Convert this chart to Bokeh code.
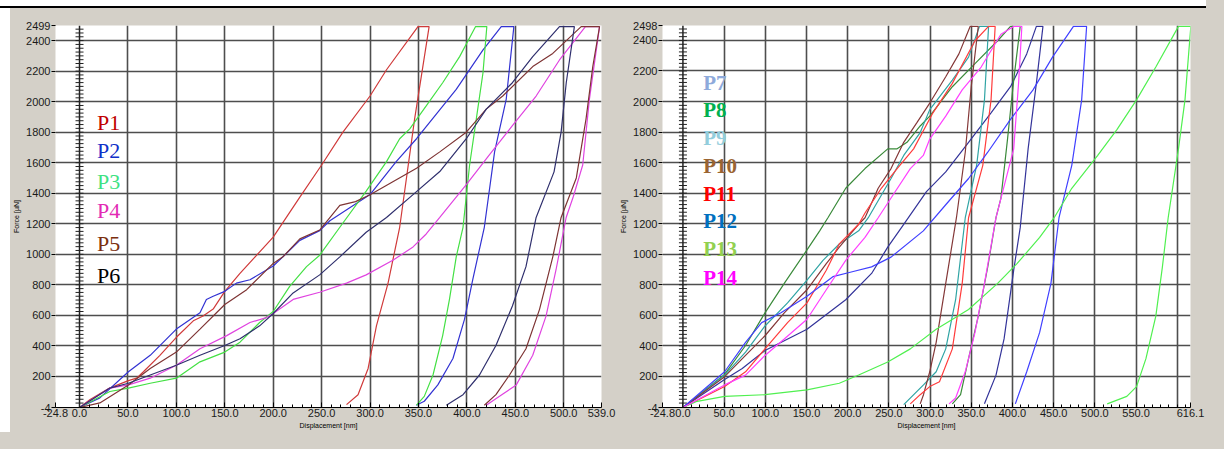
from bokeh.plotting import figure
from bokeh.models import Range1d, FixedTicker, Div, Span, PrintfTickFormatter
from bokeh.layouts import row, column
from bokeh.embed import file_html
from bokeh.resources import INLINE
from bokeh.core.properties import value
import numpy as np

# ---------------- data: left panel (P1-P6) ----------------
P1_x = [-24.8, 0, 11, 31, 50.5, 59, 66, 83, 100, 117.5, 127.6, 138, 150, 165.7, 200, 227, 250, 272, 300, 317, 349.5, 361, 346, 330.6, 318.6, 306.6, 298, 287.6, 275.7]
P1_y = [-4, -4, 48, 123, 172, 188, 230, 338, 456, 564, 596, 641, 757, 875, 1112, 1370, 1585, 1800, 2037, 2209, 2492, 2492, 1886, 1177, 811, 531, 252, 80, 15]

P2_x = [-24.8, 0, 21, 50.5, 73, 100, 124.4, 131, 138, 150, 162, 176, 200, 210, 227.5, 248, 258.5, 300, 327, 348, 389, 416.5, 435.5, 448.5, 440.6, 428.6, 418, 406, 397.6, 385.6, 370, 356, 347.8]
P2_y = [-4, -4, 59, 230, 338, 510, 617, 704, 725, 757, 811, 833, 923, 983, 1091, 1155, 1220, 1391, 1607, 1757, 2080, 2338, 2492, 2492, 2015, 1671, 1177, 833, 575, 317, 144, 37, 11]

P3_x = [-24.8, 0, 31.3, 50.5, 73, 100, 124.4, 150, 165.7, 186, 200, 217, 234.4, 248, 268.8, 296, 317, 330.6, 341, 358, 375, 392.5, 409, 420.6, 416.6, 409.7, 402.8, 396, 389, 382, 375, 365, 356, 348]
P3_y = [-4, -4, 101, 123, 155, 188, 295, 359, 424, 553, 625, 790, 919, 994, 1177, 1414, 1607, 1757, 1822, 1972, 2124, 2295, 2492, 2492, 2188, 1886, 1585, 1177, 983, 704, 467, 209, 69, 11]

P4_x = [-24.8, 0, 31.3, 50.5, 73, 100, 124.4, 152, 176, 193, 200, 220.6, 248, 275.7, 296, 324, 344.4, 358, 372, 399.4, 423, 447, 471.5, 495.6, 522.4, 537, 526.5, 519.6, 510, 502.5, 492, 481.8, 468, 451, 433.7, 420]
P4_y = [-4, -4, 123, 144, 188, 273, 381, 467, 553, 585, 612, 704, 751, 811, 865, 962, 1048, 1133, 1241, 1456, 1650, 1843, 2037, 2273, 2492, 2492, 2015, 1585, 1380, 1241, 897, 596, 338, 144, 69, 11]

P5_x = [-24.8, 0, 21, 50.5, 73, 100, 124.4, 150, 172.6, 200, 210, 227.5, 248, 268.8, 285, 300, 348, 372, 399.4, 420, 437, 468, 488.7, 518, 537, 530, 523, 513, 497.3, 488.7, 475, 461, 444, 430, 418]
P5_y = [-4, -4, 26, 144, 252, 359, 510, 671, 768, 940, 983, 1101, 1159, 1320, 1345, 1390, 1564, 1671, 1800, 1951, 2037, 2230, 2316, 2492, 2492, 2230, 1886, 1500, 1241, 983, 639, 381, 209, 80, 11]

P6_x = [-24.8, 0, 31.3, 50.5, 73, 100, 124.4, 150, 165.7, 186, 200, 220.6, 248, 268.8, 296, 317, 344.4, 372, 399.4, 420, 447, 468, 495.6, 511, 502.6, 497.3, 490, 471.5, 461, 447, 430, 413, 396, 378.8]
P6_y = [-4, -4, 123, 155, 209, 273, 338, 402, 446, 531, 612, 747, 865, 983, 1144, 1241, 1391, 1542, 1757, 1951, 2124, 2295, 2492, 2492, 2124, 1800, 1540, 1241, 919, 661, 402, 209, 80, 11]

# ---------------- data: right panel (P7-P14) ----------------
P7_x = [-24.8, 0, 50.6, 72, 99.6, 150.6, 197.6, 229, 248.6, 268, 295.6, 319, 346.7, 374, 397.6, 417.3, 429, 437, 429, 419, 409.4, 401.5, 389.8, 380, 366]
P7_y = [-4, -4, 180, 252, 369, 509, 702, 874, 1046, 1196, 1410, 1539, 1733, 1926, 2097, 2312, 2492, 2492, 2119, 1690, 1174, 896, 445, 208, 20]

P8_x = [-24.8, 0, 50.6, 76, 99.6, 123, 150, 166, 176, 197.6, 221, 248.6, 260, 272, 288, 299.6, 327, 354.5, 382, 397.6, 409.4, 401.5, 394, 386, 380, 370, 358.5, 346.7, 337, 327]
P8_y = [-4, -4, 213, 402, 616, 809, 1024, 1153, 1239, 1432, 1561, 1690, 1690, 1733, 1840, 1904, 2097, 2248, 2398, 2492, 2492, 2140, 1754, 1367, 1239, 917, 595, 316, 80, 20]

P9_x = [-24.8, 0, 50.6, 76, 99.6, 127, 150.6, 170, 189.8, 213.3, 225, 252.6, 268, 288, 299.6, 327, 346.7, 360, 371, 366, 356.5, 342.7, 331, 319, 307.4, 292, 268]
P9_y = [-4, -4, 208, 359, 530, 681, 831, 960, 1067, 1153, 1239, 1496, 1647, 1797, 1947, 2140, 2291, 2492, 2492, 2011, 1582, 1239, 702, 380, 230, 144, 15]

P10_x = [-24.8, 0, 50.6, 76, 99.6, 123, 150.6, 174, 189.8, 213.3, 221, 237, 252.6, 268, 284, 299.6, 319, 335, 348.6, 358.5, 350, 342.7, 332, 319, 307.4, 299.6, 292, 288]
P10_y = [-4, -4, 198, 337, 466, 616, 767, 938, 1046, 1196, 1239, 1432, 1561, 1733, 1862, 1990, 2162, 2312, 2492, 2492, 2100, 1668, 1239, 809, 423, 230, 80, 20]

P11_x = [-24.8, 0, 50.6, 76, 99.6, 127, 150.6, 174, 189.8, 197.6, 213.3, 221, 240.8, 260, 280, 303.5, 327, 354.5, 371, 379, 374, 364, 346.7, 339, 327, 311.4, 299.6, 288, 276]
P11_y = [-4, -4, 133, 230, 380, 552, 681, 895, 1067, 1110, 1196, 1270, 1432, 1561, 1690, 1926, 2119, 2398, 2492, 2492, 2011, 1582, 1239, 809, 380, 165, 133, 80, 20]

P12_x = [-24.8, 0, 50.6, 76, 95.6, 119, 150.6, 182, 205.5, 229, 252.6, 291.8, 319, 346.7, 370, 397.6, 425, 448.6, 474, 490, 484, 472, 456.5, 446.7, 433, 417.3, 403.5]
P12_y = [-4, -4, 230, 423, 552, 616, 724, 853, 885, 917, 981, 1153, 1324, 1496, 1668, 1883, 2076, 2291, 2492, 2492, 2011, 1582, 1239, 809, 488, 230, 20]

P13_x = [-24.8, 0, 17.3, 50.6, 99.6, 150.6, 189.8, 213.3, 248.6, 276, 307.4, 346.7, 382, 405.5, 433, 450.6, 472, 503.5, 527, 550.6, 574, 601.5, 616.5, 609.4, 601.5, 589, 582, 574, 562, 550.6, 538.8, 515]
P13_y = [-4, -4, 36.6, 68.8, 79.7, 112, 155, 208.5, 294, 380, 509, 638, 809, 938, 1110, 1239, 1432, 1647, 1818, 2011, 2226, 2492, 2492, 2011, 1690, 1239, 917, 595, 316, 133, 69, 20]

P14_x = [-24.8, 0, 50.6, 76, 99.6, 123, 150.6, 174, 197.6, 221, 237, 252.6, 276, 291.8, 299.6, 319, 339, 362, 386, 401.5, 411.4, 407.4, 401.5, 380, 366, 354.5, 342.7, 331, 323]
P14_y = [-4, -4, 144, 208, 337, 445, 574, 767, 960, 1110, 1239, 1368, 1561, 1647, 1754, 1904, 2076, 2226, 2441, 2492, 2492, 2119, 1690, 1239, 809, 488, 230, 58, 20]

LEFT_NAMES = ["P1", "P2", "P3", "P4", "P5", "P6"]
LEFT_X = [P1_x, P2_x, P3_x, P4_x, P5_x, P6_x]
LEFT_Y = [P1_y, P2_y, P3_y, P4_y, P5_y, P6_y]
RIGHT_NAMES = ["P7", "P8", "P9", "P10", "P11", "P12", "P13", "P14"]
RIGHT_X = [P7_x, P8_x, P9_x, P10_x, P11_x, P12_x, P13_x, P14_x]
RIGHT_Y = [P7_y, P8_y, P9_y, P10_y, P11_y, P12_y, P13_y, P14_y]

LEFT_XMAX, LEFT_YMAX = 539.0, 2499
RIGHT_XMAX, RIGHT_YMAX = 616.1, 2498
X_MIN, Y_MIN = -24.8, -4

# ---------------- styles ----------------
LEFT_CURVE_COLORS = ["#d03a3a", "#3232d2", "#44e044", "#e044e0", "#7e3434", "#30306e"]
LEFT_LABEL_COLORS = ["#c00000", "#1030c8", "#3ee282", "#e22ab4", "#7b2e0e", "#000000"]
RIGHT_CURVE_COLORS = ["#34349a", "#3a8a3a", "#30a4a4", "#843838", "#ff3c3c", "#4040ff", "#50f050", "#ff40ff"]
RIGHT_LABEL_COLORS = ["#8eaadb", "#00b050", "#92cddc", "#9a6432", "#ff0000", "#0070c0", "#92d050", "#ff00ff"]

LEFT_LABEL_POS_X = 18
LEFT_LABEL_POS_Y = [1865, 1683, 1474, 1284, 1071, 862]
RIGHT_LABEL_POS_X = 24.7
RIGHT_LABEL_POS_Y = [2122, 1942, 1759, 1579, 1395, 1215, 1037, 847]

PANEL_BG = "#d4d0c8"
GRID_COLOR = "#4e4e4e"
FONT = "Liberation Sans"
FIG_H = 424
GRAY_HOST = [":host { background-color: #d4d0c8; }"]


def make_panel(width, b_left, b_right, xmax, ymax, names, xs, ys, curve_colors,
               label_colors, lab_x, lab_y, lab_style, lab_size):
    p = figure(width=width, height=FIG_H, x_range=Range1d(X_MIN, xmax),
               y_range=Range1d(Y_MIN, ymax), output_backend="svg",
               toolbar_location=None, min_border_left=b_left,
               min_border_right=b_right, min_border_top=17, min_border_bottom=25,
               margin=0, stylesheets=GRAY_HOST)
    p.background_fill_color = "white"
    p.border_fill_color = PANEL_BG
    p.outline_line_color = None

    # grid
    p.xgrid.ticker = FixedTicker(ticks=list(range(50, int(xmax) + 1, 50)))
    p.ygrid.ticker = FixedTicker(ticks=list(range(200, 2401, 200)))
    p.grid.grid_line_color = GRID_COLOR
    p.grid.grid_line_width = 1.6

    # x axis
    xt = [X_MIN] + list(range(0, int(xmax) - 20, 50)) + [xmax]
    p.xaxis.ticker = FixedTicker(ticks=xt, minor_ticks=list(range(0, int(xmax) + 1, 10)))
    p.xaxis.formatter = PrintfTickFormatter(format="%.1f")
    p.xaxis.axis_line_color = "black"
    p.xaxis.major_tick_in = 5
    p.xaxis.major_tick_out = 0
    p.xaxis.minor_tick_in = 3
    p.xaxis.minor_tick_out = 0
    p.xaxis.major_tick_line_color = "black"
    p.xaxis.minor_tick_line_color = "black"
    p.xaxis.major_label_standoff = 1
    p.xaxis.major_label_text_font = FONT
    p.xaxis.major_label_text_font_size = "11px"
    p.xaxis.major_label_text_color = "#1a1a1a"
    p.xaxis.axis_label = "Displacement [nm]"
    p.xaxis.axis_label_text_font = FONT
    p.xaxis.axis_label_text_font_size = "7px"
    p.xaxis.axis_label_text_font_style = "normal"
    p.xaxis.axis_label_text_color = "black"
    p.xaxis.axis_label_standoff = 2

    # y axis
    yt = [Y_MIN] + list(range(200, 2401, 200)) + [ymax]
    p.yaxis.ticker = FixedTicker(ticks=yt)
    p.yaxis.formatter = PrintfTickFormatter(format="%d")
    p.yaxis.axis_line_color = None
    p.yaxis.major_tick_out = 4
    p.yaxis.major_tick_in = 0
    p.yaxis.minor_tick_out = 0
    p.yaxis.minor_tick_in = 0
    p.yaxis.major_tick_line_color = "black"
    p.yaxis.major_label_standoff = 1
    p.yaxis.major_label_text_font = FONT
    p.yaxis.major_label_text_font_size = "11px"
    p.yaxis.major_label_text_color = "#1a1a1a"
    p.yaxis.axis_label = "Force [µN]"
    p.yaxis.axis_label_text_font = FONT
    p.yaxis.axis_label_text_font_size = "7px"
    p.yaxis.axis_label_text_font_style = "normal"
    p.yaxis.axis_label_text_color = "black"
    p.yaxis.axis_label_standoff = 3

    # vertical zero axis with cross ticks
    p.add_layout(Span(location=0, dimension="height", line_color="#222222", line_width=1.5))
    tick_y = np.arange(25, ymax - 10, 25)
    p.scatter(x=np.zeros(len(tick_y)), y=tick_y, marker="dash", size=8,
              line_color="#222222", line_width=1)

    # curves
    for x, y, c in zip(xs, ys, curve_colors):
        p.line(x, y, line_color=c, line_width=1.2)

    # labels
    p.text(x=[lab_x] * len(names), y=lab_y, text=names, text_color=label_colors,
           text_font=value("Liberation Serif"), text_font_size=lab_size,
           text_font_style=lab_style, text_baseline="middle", text_align="left")
    return p


left = make_panel(607, 45, 16, LEFT_XMAX, LEFT_YMAX, LEFT_NAMES, LEFT_X, LEFT_Y,
                  LEFT_CURVE_COLORS, LEFT_LABEL_COLORS, LEFT_LABEL_POS_X,
                  LEFT_LABEL_POS_Y, "normal", "22px")
right = make_panel(589, 43, 16, RIGHT_XMAX, RIGHT_YMAX, RIGHT_NAMES, RIGHT_X, RIGHT_Y,
                   RIGHT_CURVE_COLORS, RIGHT_LABEL_COLORS, RIGHT_LABEL_POS_X,
                   RIGHT_LABEL_POS_Y, "bold", "21px")

WHITE_HOST = [":host { background-color: #ffffff; }"]
BLACK_HOST = [":host { background-color: #000000; }"]
top_space = Div(text="", width=1206, height=6, margin=0, stylesheets=WHITE_HOST,
                styles={"background-color": "#ffffff"})
top_line = Div(text="", width=1206, height=2, margin=0, stylesheets=BLACK_HOST,
               styles={"background-color": "#000000"})
left_space = Div(text="", width=10, height=FIG_H, margin=0, stylesheets=WHITE_HOST,
                 styles={"background-color": "#ffffff"})
bottom = row(left_space, left, right, spacing=0, margin=0, stylesheets=GRAY_HOST)
layout = column(top_space, top_line, bottom, spacing=0, margin=0, stylesheets=GRAY_HOST)

html = file_html(layout, INLINE)
html = html.replace("<head>", "<head><style>html, body { background-color: #d4d0c8; }</style>", 1)
open("out.html", "w").write(html)
